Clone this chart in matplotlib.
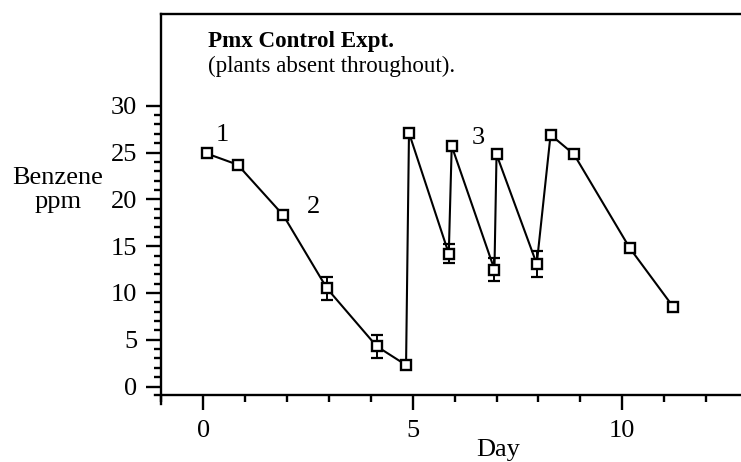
import numpy as np
import matplotlib.pyplot as plt
from matplotlib.ticker import MultipleLocator

plt.rcParams['font.family'] = ['Liberation Serif', 'DejaVu Serif']

# dados (dia, benzeno em ppm)
dia = [0.08, 0.82, 1.91, 2.95, 4.14, 4.84, 4.91, 5.86, 5.93, 6.95, 7.00, 7.96, 8.29, 8.85, 10.18, 11.22]
benzeno = [24.9, 23.7, 18.3, 10.5, 4.3, 2.3, 27.1, 14.2, 25.7, 12.5, 24.8, 13.1, 26.9, 24.8, 14.8, 8.5]
erro = [0, 0, 0, 1.2, 1.25, 0, 0, 1.05, 0, 1.25, 0, 1.4, 0, 0, 0, 0]

rotulos = ['1', '2', '3']
rot_x = [0.46, 2.63, 6.56]
rot_y = [26.9, 19.2, 26.6]

fig = plt.figure(figsize=(7.41, 4.62), dpi=100)
ax = fig.add_axes([161/741, 67/462, 674/741, 381/462])

# barras de erro só onde existem
dia_e = np.array(dia)
ben_e = np.array(benzeno)
err_e = np.array(erro)
tem = err_e > 0
ax.errorbar(dia_e[tem], ben_e[tem], yerr=err_e[tem], fmt='none', ecolor='black',
            elinewidth=1.4, capsize=4.3, capthick=1.6, zorder=2)
ax.plot(dia, benzeno, color='black', linewidth=1.5, marker='s', markersize=7,
        markerfacecolor='white', markeredgecolor='black', markeredgewidth=1.7, zorder=3)

for r, x, y in zip(rotulos, rot_x, rot_y):
    ax.text(x, y, r, fontsize=19, ha='center', va='center')

ax.text(0.12, 36.3, 'Pmx Control Expt.', fontsize=16.6, fontweight='bold', va='baseline')
ax.text(0.12, 33.6, '(plants absent throughout).', fontsize=16.6, va='baseline')

ax.set_xlim(-1.01, 15.08)
ax.set_ylim(-0.9, 39.8)
ax.set_yticks([0, 5, 10, 15, 20, 25, 30])
ax.set_xticks([0, 5, 10])
ax.xaxis.set_minor_locator(MultipleLocator(1))
# sem ticks menores acima de 30
ax.yaxis.set_minor_locator(plt.FixedLocator(np.arange(0, 31, 1)))

ax.tick_params(which='major', direction='out', length=11, width=1.7, labelsize=19)
ax.tick_params(axis='y', which='major', pad=6)
ax.tick_params(axis='x', which='major', pad=7)
ax.tick_params(which='minor', direction='out', length=5, width=1.7)

for s in ax.spines.values():
    s.set_linewidth(1.7)
# eixos se cruzam um pouco no canto, como no original
ax.spines['bottom'].set_bounds(-1.15, 15.08)
ax.spines['left'].set_bounds(-1.85, 39.8)

ax.set_xlabel('Day', fontsize=19, labelpad=-2)
fig.text(58/741, 1 - 190/462, 'Benzene\nppm', fontsize=19, ha='center', va='center',
         linespacing=1.15)

fig.savefig('out.png', dpi=100)
